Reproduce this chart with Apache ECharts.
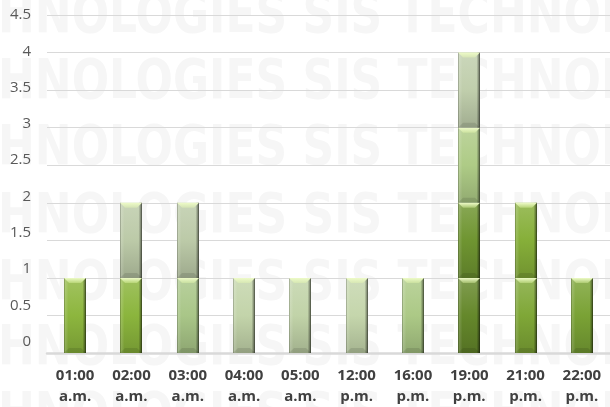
<!DOCTYPE html>
<html>
<head>
<meta charset="utf-8">
<script src="https://cdn.jsdelivr.net/npm/echarts@6/dist/echarts.min.js"></script>
<style>
  html, body { margin: 0; padding: 0; background: #fff; }
  #chart { width: 610px; height: 407px; }
</style>
</head>
<body>
<div id="chart"></div>
<script>
// categories (hour of day)
const hours = ['01:00\na.m.', '02:00\na.m.', '03:00\na.m.', '04:00\na.m.', '05:00\na.m.',
  '12:00\np.m.', '16:00\np.m.', '19:00\np.m.', '21:00\np.m.', '22:00\np.m.']
// stacked blocks, one unit each
const layer1 = [1, 1, 1, 1, 1, 1, 1, 1, 1, 1]
const layer2 = [0, 1, 1, 0, 0, 0, 0, 1, 1, 0]
const layer3 = [0, 0, 0, 0, 0, 0, 0, 1, 0, 0]
const layer4 = [0, 0, 0, 0, 0, 0, 0, 1, 0, 0]
const yTicks = { min: 0, max: 4.5, step: 0.5 }

// colour of each block (style only)
const shade1 = ['#8DB63E', '#8BB53D', '#A9C688', '#C3D4AA', '#C1D3A8', '#C5D6AC', '#ACC986', '#65882B', '#7FA737', '#7AA235']
const shade2 = ['#BCCAA8', '#BCCAA8', '#BCCAA8', '#BCCAA8', '#BCCAA8', '#BCCAA8', '#BCCAA8', '#6F9531', '#86AF39', '#BCCAA8']
const shade3 = ['#AECB86', '#AECB86', '#AECB86', '#AECB86', '#AECB86', '#AECB86', '#AECB86', '#AECB86', '#AECB86', '#AECB86']
const shade4 = ['#C0CEAC', '#C0CEAC', '#C0CEAC', '#C0CEAC', '#C0CEAC', '#C0CEAC', '#C0CEAC', '#C0CEAC', '#C0CEAC', '#C0CEAC']

function mix (hex, target, t) {
  const a = parseInt(hex.slice(1), 16)
  const b = parseInt(target.slice(1), 16)
  const ch = s => Math.round(((a >> s) & 255) * (1 - t) + ((b >> s) & 255) * t)
  return 'rgb(' + ch(16) + ',' + ch(8) + ',' + ch(0) + ')'
}

function makeRender (colors) {
  return function (params, api) {
    const i = api.value(0)
    const lo = api.value(1)
    const hi = api.value(2)
    if (hi <= lo) return null
    const p0 = api.coord([i, lo])
    const p1 = api.coord([i, hi])
    const w = 22
    const b = 5
    const x = Math.round(p0[0] - w / 2)
    const y = p1[1]
    const h = p0[1] - p1[1]
    const c = colors[i]
    return {
      type: 'group',
      children: [
        {
          type: 'rect',
          shape: { x: x, y: y, width: w, height: h },
          style: {
            fill: new echarts.graphic.LinearGradient(0, 0, 0, 1, [
              { offset: 0, color: mix(c, '#FFFFFF', 0.18) },
              { offset: 0.5, color: c },
              { offset: 1, color: mix(c, '#000000', 0.16) }
            ])
          }
        },
        {
          type: 'rect',
          shape: { x: x, y: y, width: w, height: h },
          style: {
            fill: new echarts.graphic.LinearGradient(0, 0, 1, 0, [
              { offset: 0, color: 'rgba(0,0,0,0.35)' },
              { offset: 0.07, color: 'rgba(255,255,255,0.15)' },
              { offset: 0.2, color: 'rgba(255,255,255,0)' },
              { offset: 0.84, color: 'rgba(0,0,0,0)' },
              { offset: 0.92, color: 'rgba(0,0,0,0.25)' },
              { offset: 1, color: 'rgba(0,0,0,0.65)' }
            ])
          }
        },
        {
          type: 'polygon',
          shape: { points: [[x, y], [x + w, y], [x + w - b, y + b], [x + b, y + b]] },
          style: {
            fill: new echarts.graphic.LinearGradient(0, 0, 0, 1, [
              { offset: 0, color: '#EEFBC8' },
              { offset: 1, color: mix(c, '#F0FFC0', 0.45) }
            ])
          }
        },
        {
          type: 'polygon',
          shape: { points: [[x, y + h], [x + w, y + h], [x + w - b, y + h - b], [x + b, y + h - b]] },
          style: { fill: 'rgba(0,0,0,0.1)' }
        }
      ]
    }
  }
}

const layers = [layer1, layer2, layer3, layer4]
const shades = [shade1, shade2, shade3, shade4]
let base = hours.map(() => 0)
const series = layers.map((layer, k) => {
  const data = layer.map((v, i) => [i, base[i], base[i] + v])
  base = base.map((s, i) => s + layer[i])
  return {
    type: 'custom',
    xAxisIndex: 0,
    yAxisIndex: 0,
    renderItem: makeRender(shades[k]),
    encode: { x: 0, y: [1, 2] },
    data: data,
    z: 3
  }
})

// background watermark rows
const markTops = [-10, 56, 122, 190, 257, 322, 389]
const watermark = markTops.map(t => ({
  type: 'text',
  x: -2,
  y: t,
  scaleX: 0.8,
  z: -10,
  silent: true,
  style: {
    text: 'HNOLOGIES SIS TECHNOLOGIES',
    font: 'bold 55px "DejaVu Sans"',
    fill: '#F6F6F6',
    verticalAlign: 'top'
  }
}))

const myChart = echarts.init(document.getElementById('chart'), null, { renderer: 'canvas' })
myChart.setOption({
  animation: false,
  backgroundColor: '#FFFFFF',
  graphic: watermark,
  grid: [
    { left: 47, top: 15, width: 567, bottom: 54 },
    { left: 47, top: 15, width: 567, bottom: 65.3 }
  ],
  xAxis: [
    {
      type: 'category',
      gridIndex: 0,
      data: hours,
      axisTick: { show: false },
      axisLine: { show: true, lineStyle: { color: '#D9D9D9', width: 2.5 } },
      axisLabel: {
        margin: 12,
        interval: 0,
        color: '#404040',
        fontFamily: 'Open Sans',
        fontWeight: 700,
        fontSize: 15,
        lineHeight: 21
      }
    },
    { type: 'category', gridIndex: 1, data: hours, show: false }
  ],
  yAxis: [
    {
      type: 'value',
      gridIndex: 0,
      min: yTicks.min,
      max: yTicks.max,
      interval: yTicks.step,
      axisLabel: { show: false },
      axisLine: { show: false },
      axisTick: { show: false },
      splitLine: { lineStyle: { color: '#D9D9D9', width: 1.2 } }
    },
    {
      type: 'value',
      gridIndex: 1,
      min: yTicks.min,
      max: yTicks.max,
      interval: yTicks.step,
      axisLine: { show: false },
      axisTick: { show: false },
      splitLine: { show: false },
      axisLabel: {
        margin: 16,
        color: '#595959',
        fontFamily: 'Open Sans',
        fontSize: 15
      }
    }
  ],
  series: series
})
</script>
</body>
</html>
